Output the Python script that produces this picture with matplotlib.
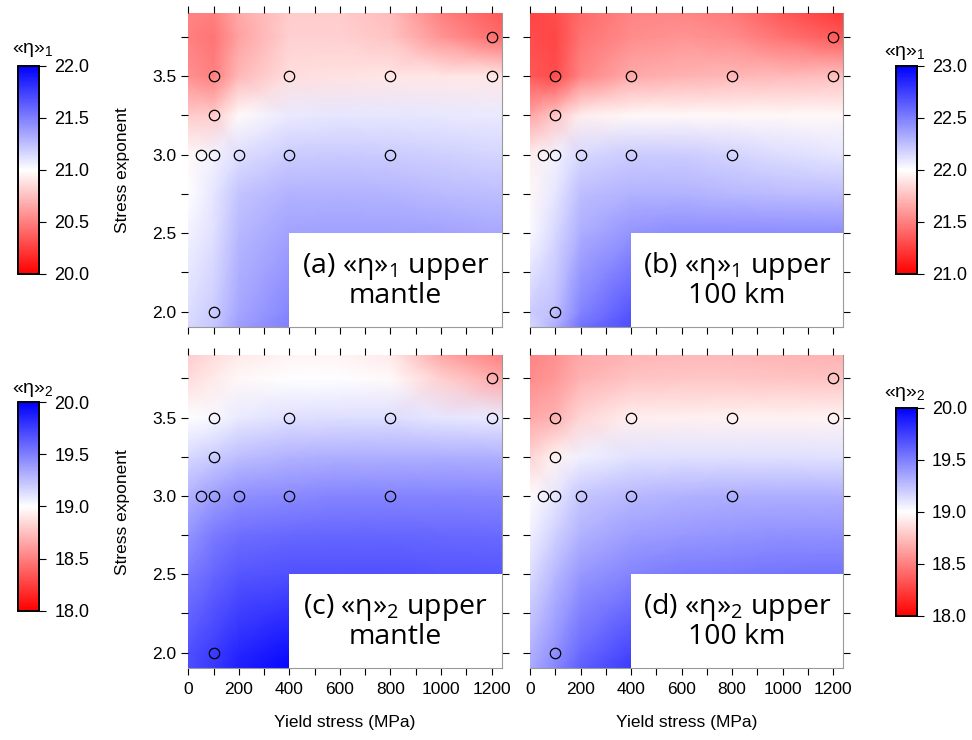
import numpy as np
import matplotlib
matplotlib.use('Agg')
import matplotlib.pyplot as plt
from matplotlib.patches import Rectangle
from matplotlib.ticker import MultipleLocator, FormatStrFormatter
from matplotlib.colors import Normalize
from matplotlib.cm import ScalarMappable

plt.rcParams['font.family'] = ['Liberation Sans', 'DejaVu Sans']

# grid nodes (yield stress MPa, stress exponent) on which the field values were read
grid_x = [0, 100, 200, 400, 600, 800, 1000, 1240]
grid_y = [1.9, 2.0, 2.5, 2.75, 3.0, 3.25, 3.5, 3.75, 3.9]

# (a) <eta>_1 upper mantle
eta1_mantle = [
    [21.15, 21.22, 21.38, 21.50, 21.45, 21.42, 21.42, 21.42],
    [21.13, 21.20, 21.35, 21.47, 21.43, 21.42, 21.42, 21.42],
    [21.05, 21.12, 21.28, 21.36, 21.37, 21.37, 21.36, 21.34],
    [21.00, 21.10, 21.23, 21.30, 21.30, 21.29, 21.27, 21.25],
    [20.97, 21.05, 21.13, 21.20, 21.21, 21.20, 21.18, 21.16],
    [20.80, 20.80, 20.98, 21.08, 21.10, 21.10, 21.09, 21.08],
    [20.57, 20.50, 20.72, 20.87, 20.89, 20.90, 20.90, 20.90],
    [20.50, 20.46, 20.64, 20.82, 20.82, 20.77, 20.58, 20.42],
    [20.52, 20.50, 20.66, 20.80, 20.80, 20.74, 20.50, 20.35],
]
# (b) <eta>_1 upper 100 km
eta1_100km = [
    [22.15, 22.32, 22.55, 22.70, 22.60, 22.55, 22.55, 22.55],
    [22.20, 22.25, 22.48, 22.66, 22.58, 22.55, 22.55, 22.55],
    [22.02, 22.15, 22.32, 22.42, 22.45, 22.45, 22.45, 22.45],
    [21.97, 22.10, 22.25, 22.30, 22.30, 22.28, 22.26, 22.25],
    [21.93, 22.05, 22.15, 22.20, 22.20, 22.17, 22.13, 22.10],
    [21.65, 21.78, 21.93, 21.97, 21.97, 21.97, 21.97, 21.97],
    [21.35, 21.30, 21.52, 21.67, 21.70, 21.72, 21.73, 21.75],
    [21.30, 21.28, 21.45, 21.55, 21.58, 21.55, 21.45, 21.35],
    [21.27, 21.30, 21.42, 21.52, 21.53, 21.48, 21.35, 21.22],
]
# (c) <eta>_2 upper mantle
eta2_mantle = [
    [19.70, 19.78, 19.88, 19.97, 19.80, 19.75, 19.72, 19.70],
    [19.68, 19.76, 19.85, 19.93, 19.80, 19.75, 19.72, 19.70],
    [19.52, 19.60, 19.66, 19.68, 19.68, 19.68, 19.67, 19.66],
    [19.42, 19.52, 19.57, 19.59, 19.60, 19.60, 19.59, 19.58],
    [19.30, 19.38, 19.43, 19.46, 19.48, 19.48, 19.48, 19.47],
    [19.15, 19.20, 19.25, 19.30, 19.32, 19.32, 19.32, 19.31],
    [19.00, 19.03, 19.08, 19.12, 19.13, 19.13, 19.10, 19.08],
    [18.86, 18.92, 18.97, 19.00, 19.00, 18.98, 18.82, 18.66],
    [18.80, 18.86, 18.92, 18.96, 18.96, 18.92, 18.65, 18.50],
]
# (d) <eta>_2 upper 100 km
eta2_100km = [
    [19.33, 19.47, 19.63, 19.77, 19.62, 19.60, 19.60, 19.60],
    [19.30, 19.43, 19.58, 19.72, 19.60, 19.58, 19.58, 19.58],
    [19.14, 19.28, 19.40, 19.48, 19.52, 19.53, 19.54, 19.55],
    [19.06, 19.18, 19.30, 19.38, 19.40, 19.42, 19.43, 19.43],
    [18.99, 19.10, 19.22, 19.28, 19.30, 19.32, 19.32, 19.32],
    [18.83, 18.95, 19.06, 19.11, 19.12, 19.12, 19.12, 19.11],
    [18.66, 18.70, 18.84, 18.93, 18.94, 18.95, 18.95, 18.96],
    [18.55, 18.60, 18.70, 18.77, 18.78, 18.78, 18.77, 18.76],
    [18.52, 18.57, 18.66, 18.71, 18.72, 18.72, 18.71, 18.70],
]

# model runs (circles)
run_yield = [50, 100, 200, 400, 800, 100, 100, 100, 400, 800, 1200, 1200]
run_n = [3.0, 3.0, 3.0, 3.0, 3.0, 2.0, 3.25, 3.5, 3.5, 3.5, 3.5, 3.75]

panel_labels = [r'(a) «η»$_\mathregular{1}$ upper' + '\nmantle',
                r'(b) «η»$_\mathregular{1}$ upper' + '\n100 km',
                r'(c) «η»$_\mathregular{2}$ upper' + '\nmantle',
                r'(d) «η»$_\mathregular{2}$ upper' + '\n100 km']
fields = [eta1_mantle, eta1_100km, eta2_mantle, eta2_100km]
cranges = [(20.0, 22.0), (21.0, 23.0), (18.0, 20.0), (18.0, 20.0)]
cbar_titles = [r'«η»$_\mathregular{1}$', r'«η»$_\mathregular{1}$',
               r'«η»$_\mathregular{2}$', r'«η»$_\mathregular{2}$']

W, H = 972, 740
fig = plt.figure(figsize=(W / 100, H / 100), dpi=100)

def px(l, t, r, b):
    return [l / W, 1 - b / H, (r - l) / W, (b - t) / H]

ax_pos = [px(188.3, 13.3, 501.7, 327.3), px(530, 13.3, 843.3, 327.3),
          px(188.3, 355, 501.7, 668.3), px(530, 355, 843.3, 668.3)]
cb_pos = [px(18.3, 66, 39, 274), px(895.7, 66, 916.7, 274),
          px(18.3, 402.3, 39, 610.7), px(895.7, 407.7, 916.7, 616)]
cb_title_xy = [(33, 59), (905, 62), (33, 399), (905, 403)]

cmap = plt.get_cmap('bwr_r')
X, Y = np.meshgrid(grid_x, grid_y)

for i in range(4):
    ax = fig.add_axes(ax_pos[i])
    vmin, vmax = cranges[i]
    ax.pcolormesh(X, Y, np.array(fields[i]), shading='gouraud', cmap=cmap,
                  vmin=vmin, vmax=vmax, rasterized=True, zorder=0)
    ax.add_patch(Rectangle((400, 1.9), 840, 0.6, facecolor='white',
                           edgecolor='none', zorder=2))
    ax.text(820, 2.2, panel_labels[i], ha='center', va='center', fontsize=20.5,
            family=['Open Sans', 'DejaVu Sans'], linespacing=1.0, zorder=3)
    ax.plot(run_yield, run_n, 'o', ms=7.5, mfc='none', mec='black', mew=0.9,
            zorder=4, clip_on=False)
    ax.set_xlim(0, 1240)
    ax.set_ylim(1.9, 3.9)
    ax.xaxis.set_major_locator(MultipleLocator(200))
    ax.xaxis.set_minor_locator(MultipleLocator(100))
    ax.yaxis.set_major_locator(MultipleLocator(0.5))
    ax.yaxis.set_minor_locator(MultipleLocator(0.25))
    ax.yaxis.set_major_formatter(FormatStrFormatter('%.1f'))
    ax.tick_params(which='both', direction='out', length=5, width=0.8,
                   top=True, right=True, labelsize=12.5, colors='black')
    ax.tick_params(axis='x', pad=5)
    for s in ['left', 'top']:
        ax.spines[s].set_visible(False)
    for s in ['right', 'bottom']:
        ax.spines[s].set_color('#9a9a9a')
        ax.spines[s].set_linewidth(0.8)
    if i < 2:
        ax.tick_params(labelbottom=False)
    else:
        ax.set_xlabel('Yield stress (MPa)', fontsize=12.5)
        ax.xaxis.set_label_coords(0.5, -0.15)
    if i % 2 == 1:
        ax.tick_params(labelleft=False)
    else:
        ax.set_ylabel('Stress exponent', fontsize=12.5)
        ax.yaxis.set_label_coords(-0.187, 0.5)

    cax = fig.add_axes(cb_pos[i])
    cb = fig.colorbar(ScalarMappable(norm=Normalize(vmin, vmax), cmap=cmap), cax=cax)
    cb.set_ticks(np.arange(vmin, vmax + 0.01, 0.5))
    cb.ax.yaxis.set_major_formatter(FormatStrFormatter('%.1f'))
    cb.ax.tick_params(direction='out', length=5, width=0.8, labelsize=13, pad=6)
    cb.outline.set_linewidth(1.4)
    tx, ty = cb_title_xy[i]
    fig.text(tx / W, 1 - ty / H, cbar_titles[i], ha='center', va='bottom', fontsize=14)

fig.savefig('out.png', dpi=100)
